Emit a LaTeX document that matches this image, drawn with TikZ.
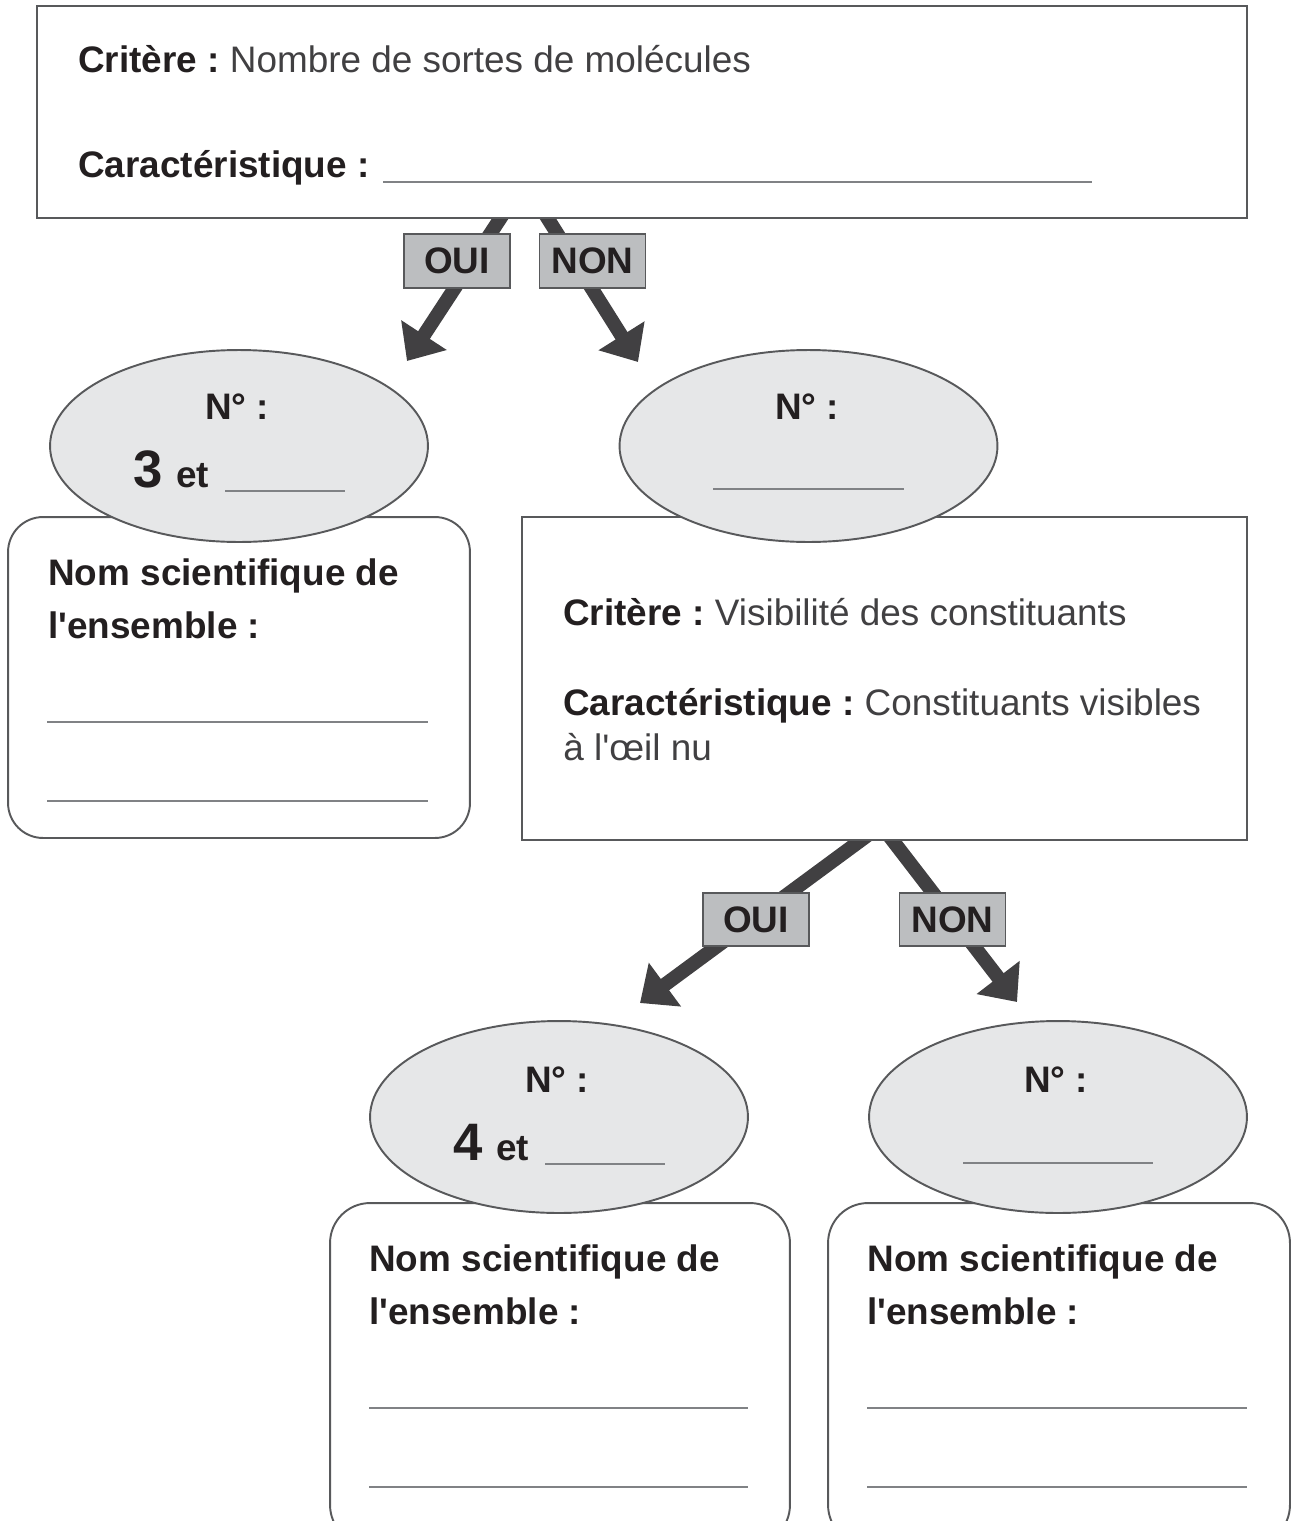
\documentclass[tikz,border=0pt]{standalone}
\usepackage{fontspec}
\setmainfont{Liberation Sans}[Ligatures=TeXOff]
\usetikzlibrary{calc,positioning,shapes.geometric,arrows.meta}
\definecolor{encre}{HTML}{231F20}
\definecolor{gristxt}{HTML}{414042}
\definecolor{trait}{HTML}{58595B}
\definecolor{fleche}{HTML}{414042}
\definecolor{fondell}{HTML}{E6E7E8}
\definecolor{fondlab}{HTML}{BCBEC0}
\definecolor{ligne}{HTML}{808285}
\pgfdeclarelayer{fond}
\pgfsetlayers{fond,main}
\tikzset{
 txt/.style={inner sep=0pt,anchor=base west,text=gristxt,font=\fontsize{21}{25}\selectfont},
 txtb/.style={txt,text=encre,font=\fontsize{21}{25}\selectfont\bfseries},
 boite/.style={draw=trait,line width=1.1pt,fill=white,inner sep=0pt},
 ens/.style={ellipse,draw=trait,line width=1.1pt,fill=fondell,minimum width=7.56cm,minimum height=3.84cm,inner sep=0pt},
 rep/.style={draw=trait,line width=1.1pt,fill=fondlab,minimum width=2.12cm,minimum height=1.07cm,inner sep=0pt,text=encre,font=\fontsize{21}{25}\selectfont\bfseries},
 fl/.style={draw=fleche,line width=0.28cm,-{Triangle[length=0.62cm,width=1.05cm]}},
 blanc/.style={draw=ligne,line width=1.1pt},
}
\begin{document}
\begin{tikzpicture}[x=0.02cm,y=-0.02cm]
\useasboundingbox(0,0)rectangle(1293,1521);
\clip(0,0)rectangle(1293,1521);
% cadres
\node[boite,minimum width=24.2cm,minimum height=4.24cm](crit1)at(642,112){};
\node[boite,rounded corners=0.7cm,minimum width=9.24cm,minimum height=6.42cm](nom1)at(239,677.5){};
\node[boite,minimum width=14.5cm,minimum height=6.46cm](crit2)at(884.5,678.5){};
\node[boite,rounded corners=0.8cm,minimum width=9.2cm,minimum height=6.84cm](nom3)at(560,1374){};
\node[boite,rounded corners=0.8cm,minimum width=9.24cm,minimum height=6.84cm](nom4)at(1059,1374){};
% ensembles
\node[ens](ens1)at(239,446){};
\node[ens](ens2)at(808.5,446){};
\node[ens](ens3)at(559,1117){};
\node[ens](ens4)at(1058,1117){};
% fleches
\coordinate(p1)at(407,361);
\coordinate(p2)at(638,362);
\coordinate(p3)at(640,1003);
\coordinate(p4)at(1017,1002);
\begin{pgfonlayer}{fond}
\draw[fl]($(crit1.south)+(-135.5,-10)$)--(p1);
\draw[fl]($(crit1.south)+(-100.25,-10)$)--(p2);
\draw[fl]($(crit2.south)+(-11,-10)$)--(p3);
\draw[fl]($(crit2.south)+(0.8,-10)$)--(p4);
\end{pgfonlayer}
\node[rep](oui1)at(457,261){OUI};
\node[rep](non1)at(592.5,261){NON};
\node[rep](oui2)at(756,919.5){OUI};
\node[rep](non2)at(952.5,919.5){NON};
% textes du premier critere
\node[txt](t1)at(78,72){\textcolor{encre}{\bfseries Critère :}\hspace{-2pt} Nombre de sortes de molécules};
\node[txtb](t2)at(78,177){Caractéristique :};
\draw[blanc](383,182)--(1092,182);
% textes du second critere
\node[txt](t3)at(563,625){\textcolor{encre}{\bfseries Critère :}\hspace{-2pt} Visibilité des constituants};
\node[txt](t4)at(563,715){\textcolor{encre}{\bfseries Caractéristique :}\hspace{-2pt} Constituants visibles};
\node[txt](t5)at(563,760){à l'œil nu};
% numeros
\node[txtb,anchor=base](n1)at(237,419){N° :};
\node[txtb](n1b)at(133,487){{\fontsize{30}{30}\selectfont 3}\hspace{2pt} et};
\draw[blanc](225,491)--(345,491);
\node[txtb,anchor=base](n2)at(807,419){N° :};
\draw[blanc](713,489)--(904,489);
\node[txtb,anchor=base](n3)at(557,1092){N° :};
\node[txtb](n3b)at(453,1160){{\fontsize{30}{30}\selectfont 4}\hspace{2pt} et};
\draw[blanc](545,1164)--(665,1164);
\node[txtb,anchor=base](n4)at(1056,1092){N° :};
\draw[blanc](963,1163)--(1153,1163);
% noms scientifiques
\node[txtb](s1)at(48,585){Nom scientifique de};
\node[txtb](s1b)at(48,638){l'ensemble :};
\draw[blanc](47,722)--(428,722);
\draw[blanc](47,801)--(428,801);
\node[txtb](s3)at(369,1271){Nom scientifique de};
\node[txtb](s3b)at(369,1324){l'ensemble :};
\draw[blanc](369,1408)--(748,1408);
\draw[blanc](369,1487)--(748,1487);
\node[txtb](s4)at(867,1271){Nom scientifique de};
\node[txtb](s4b)at(867,1324){l'ensemble :};
\draw[blanc](867,1408)--(1247,1408);
\draw[blanc](867,1487)--(1247,1487);
\end{tikzpicture}
\end{document}
